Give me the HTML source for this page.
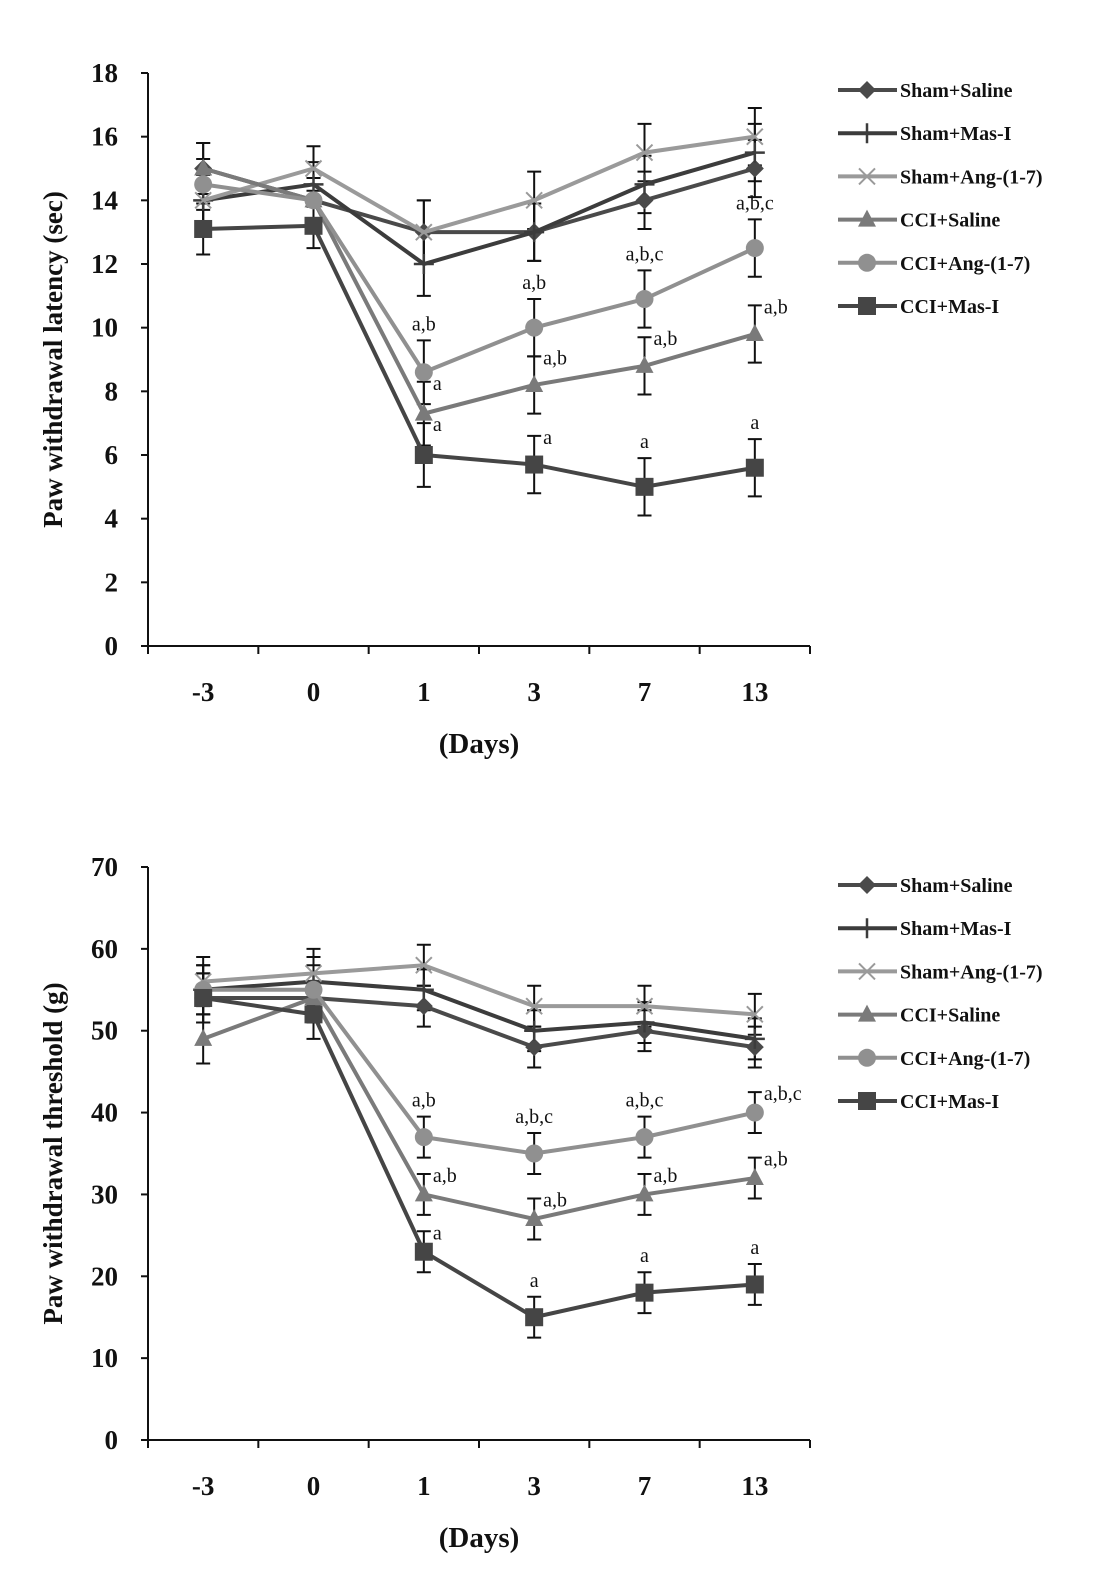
<!DOCTYPE html>
<html><head><meta charset="utf-8"><style>
html,body{margin:0;padding:0;background:#fff;}
svg{display:block;font-family:"Liberation Serif",serif;}
</style></head><body>
<svg id="fig" width="1106" height="1589" viewBox="0 0 1106 1589" xmlns="http://www.w3.org/2000/svg"></svg>
<script>
const categories = ["-3","0","1","3","7","13"];
const seriesNames = ["Sham+Saline","Sham+Mas-I","Sham+Ang-(1-7)","CCI+Saline","CCI+Ang-(1-7)","CCI+Mas-I"];
// Top chart: latency (sec)
const latShamSaline = [15,14,13,13,14,15];
const latShamMasI = [14,14.5,12,13,14.5,15.5];
const latShamAng = [14,15,13,14,15.5,16];
const latCCISaline = [15,14,7.3,8.2,8.8,9.8];
const latCCIAng = [14.5,14,8.6,10,10.9,12.5];
const latCCIMasI = [13.1,13.2,6,5.7,5,5.6];
const latErr = [0.8,0.7,1.0,0.9,0.9,0.9];
const latTicks = [0,2,4,6,8,10,12,14,16,18];
// Bottom chart: threshold (g)
const thrShamSaline = [54,54,53,48,50,48];
const thrShamMasI = [55,56,55,50,51,49];
const thrShamAng = [56,57,58,53,53,52];
const thrCCISaline = [49,54,30,27,30,32];
const thrCCIAng = [55,55,37,35,37,40];
const thrCCIMasI = [54,52,23,15,18,19];
const thrErr = [3,3,2.5,2.5,2.5,2.5];
const thrTicks = [0,10,20,30,40,50,60,70];
// Significance labels: [categoryIndex, series index, text, placement]
const latAnnot = [[2,4,"a,b","top"],[2,3,"a","right"],[2,5,"a","right"],[3,4,"a,b","top"],[3,3,"a,b","right"],[3,5,"a","right"],[4,4,"a,b,c","top"],[4,3,"a,b","right"],[4,5,"a","top"],[5,4,"a,b,c","top"],[5,3,"a,b","right"],[5,5,"a","top"]];
const thrAnnot = [[2,4,"a,b","top"],[2,3,"a,b","right"],[2,5,"a","right"],[3,4,"a,b,c","top"],[3,3,"a,b","right"],[3,5,"a","top"],[4,4,"a,b,c","top"],[4,3,"a,b","right"],[4,5,"a","top"],[5,4,"a,b,c","right"],[5,3,"a,b","right"],[5,5,"a","top"]];

const NS="http://www.w3.org/2000/svg";
const svg=document.getElementById('fig');
const colors=["#4a4a4a","#3c3c3c","#9a9a9a","#7a7a7a","#909090","#454545"];
const markers=["diamond","plus","x","triangle","circle","square"];
function el(tag,attrs,parent){const e=document.createElementNS(NS,tag);for(const k in attrs)e.setAttribute(k,attrs[k]);(parent||svg).appendChild(e);return e;}
function marker(g,type,x,y,c){
  let m;
  if(type==="diamond") m=el('polygon',{points:`${x},${y-9} ${x+9},${y} ${x},${y+9} ${x-9},${y}`,fill:c},g);
  else if(type==="square") m=el('rect',{x:x-9,y:y-9,width:18,height:18,fill:c},g);
  else if(type==="circle") m=el('circle',{cx:x,cy:y,r:9,fill:c},g);
  else if(type==="triangle") m=el('polygon',{points:`${x},${y-10} ${x+9},${y+7} ${x-9},${y+7}`,fill:c},g);
  else if(type==="plus") m=el('path',{d:`M${x-10},${y}H${x+10}M${x},${y-10}V${y+10}`,stroke:c,'stroke-width':2.5},g);
  else m=el('path',{d:`M${x-8},${y-8}L${x+8},${y+8}M${x+8},${y-8}L${x-8},${y+8}`,stroke:c,'stroke-width':2},g);
  
  
}
function chart(o){
  const {x0,x1,yTop,yBot,max,ticks,series,err,annot,ytitle,legendY,id}=o;
  const ys=v=>yBot-(v/max)*(yBot-yTop);
  const bw=(x1-x0)/categories.length;
  const xs=i=>x0+bw*(i+0.5);
  const g=el('g',{});
  
  
  // axes
  const ax=el('path',{d:`M${x0},${yTop}V${yBot}H${x1}`,stroke:'#111','stroke-width':2,fill:'none'},g);
  
  
  ticks.forEach(t=>{
    const y=ys(t);
    el('line',{x1:x0-7,x2:x0,y1:y,y2:y,stroke:'#111','stroke-width':2},g);
    const tx=el('text',{x:x0-30,y:y+9,'text-anchor':'end','font-size':27,'font-weight':'bold',fill:'#111'},g);
    tx.textContent=t;
    
    
  });
  for(let i=0;i<=categories.length;i++){const x=x0+bw*i;el('line',{x1:x,x2:x,y1:yBot,y2:yBot+8,stroke:'#111','stroke-width':2},g);}
  categories.forEach((c,i)=>{
    const t=el('text',{x:xs(i),y:yBot+55,'text-anchor':'middle','font-size':27,'font-weight':'bold',fill:'#111'},g);
    t.textContent=c;
    
    
  });
  const xt=el('text',{x:(x0+x1)/2,y:yBot+107,'text-anchor':'middle','font-size':29,'font-weight':'bold',fill:'#111'},g);
  xt.textContent="(Days)";
  
  
  const cy=(yTop+yBot)/2;
  const yt=el('text',{x:0,y:0,transform:`translate(62,${cy}) rotate(-90)`,'text-anchor':'middle','font-size':27,'font-weight':'bold',fill:'#111'},g);
  yt.textContent=ytitle;
  
  
  // error bars
  series.forEach((s,si)=>{
    s.forEach((v,i)=>{
      const x=xs(i),a=ys(v+err[i]),b=ys(v-err[i]);
      const e=el('path',{d:`M${x},${a}V${b}M${x-7},${a}H${x+7}M${x-7},${b}H${x+7}`,stroke:'#111','stroke-width':2},g);
      
      
    });
  });
  series.forEach((s,si)=>{
    const ln=el('polyline',{points:s.map((v,i)=>`${xs(i)},${ys(v)}`).join(' '),fill:'none',stroke:colors[si],'stroke-width':4},g);
    
    
    s.forEach((v,i)=>marker(g,markers[si],xs(i),ys(v),colors[si]));
  });
  annot.forEach(([i,si,txt,pl])=>{
    const v=series[si][i];const x=xs(i);const top=ys(v+err[i]);
    let t;
    if(pl==="top") t=el('text',{x:x,y:top-10,'text-anchor':'middle','font-size':20,fill:'#111'},g);
    else t=el('text',{x:x+9,y:top+8,'text-anchor':'start','font-size':20,fill:'#111'},g);
    t.textContent=txt;
    
    
  });
  // legend
  seriesNames.forEach((n,si)=>{
    const y=legendY+si*43.2;
    const lg=el('g',{},g);
    
    
    el('line',{x1:838,x2:897,y1:y,y2:y,stroke:colors[si],'stroke-width':4},lg);
    marker(lg,markers[si],867,y,colors[si]);
    const t=el('text',{x:900,y:y+7,'font-size':20,'font-weight':'bold',fill:'#111'},lg);
    t.textContent=n;
  });
}
chart({id:'latency-chart',x0:148,x1:810,yTop:73,yBot:646,max:18,ticks:latTicks,series:[latShamSaline,latShamMasI,latShamAng,latCCISaline,latCCIAng,latCCIMasI],err:latErr,annot:latAnnot,ytitle:"Paw withdrawal latency (sec)",legendY:90});
chart({id:'threshold-chart',x0:148,x1:810,yTop:867,yBot:1440,max:70,ticks:thrTicks,series:[thrShamSaline,thrShamMasI,thrShamAng,thrCCISaline,thrCCIAng,thrCCIMasI],err:thrErr,annot:thrAnnot,ytitle:"Paw withdrawal threshold (g)",legendY:885});
</script>
</body></html>
